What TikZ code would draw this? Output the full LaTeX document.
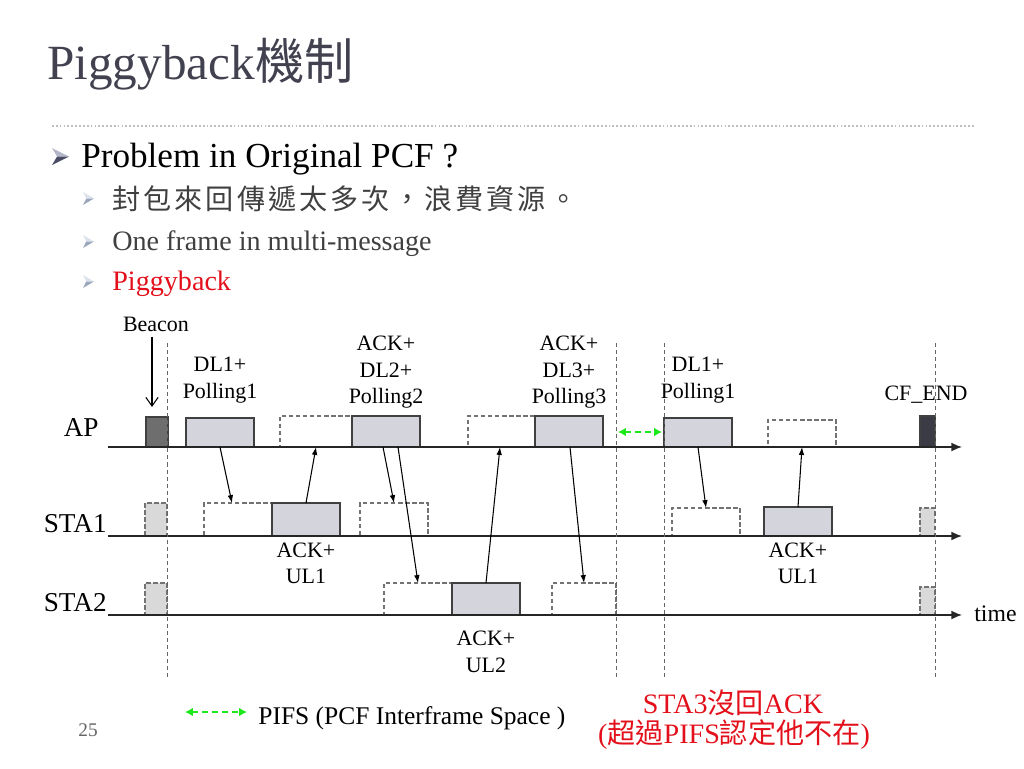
\documentclass[tikz,border=0pt]{standalone}
\usepackage{fontspec}
\setmainfont{Liberation Serif}
\newfontfamily\cjk{Noto Sans CJK TC}
\newfontfamily\cjkwide[LetterSpace=11]{Noto Sans CJK TC}
\usetikzlibrary{arrows.meta,positioning,fit}
\definecolor{titlegray}{HTML}{41414F}
\definecolor{textgray}{HTML}{404040}
\definecolor{noteRed}{HTML}{E3101B}
\definecolor{pktfill}{HTML}{D4D4DC}
\definecolor{ghostfill}{HTML}{D9D9D9}
\definecolor{bcnfill}{HTML}{6E6E6E}
\definecolor{cfefill}{HTML}{3B3B45}
\definecolor{pifsgreen}{HTML}{1CE81C}
\definecolor{bulLiteA}{HTML}{B4B6CA}
\definecolor{bulDarkA}{HTML}{4A4C66}
\definecolor{bulLiteB}{HTML}{DCE2EC}
\definecolor{bulDarkB}{HTML}{9AA6BC}
\newcommand{\fsz}[2]{\fontsize{#1}{#2}\selectfont}
\tikzset{
  pktbox/.style={draw=black!75, fill=pktfill, line width=0.6pt, inner sep=0pt, outer sep=0pt},
  slotbox/.style={draw=black!55, dash pattern=on 2.5pt off 1.5pt, line width=0.6pt, inner sep=0pt, outer sep=0pt},
  ghostbox/.style={slotbox, fill=ghostfill},
  lbl/.style={inner sep=0pt, align=center, font=\fsz{12.5}{15.3}},
  stalbl/.style={anchor=base east, inner sep=0pt, font=\fsz{15.5}{18}},
  tline/.style={line width=0.8pt, black!85, -{Latex[length=6pt,width=5pt]}},
  sig/.style={line width=0.6pt, -{Latex[length=4.5pt,width=3.2pt]}},
  guide/.style={black!60, line width=0.5pt, dash pattern=on 2.3pt off 1.7pt},
  pifs/.style={pifsgreen, line width=1.6pt, dash pattern=on 3.5pt off 2.2pt,
    {Latex[length=4.5pt,width=5pt]}-{Latex[length=4.5pt,width=5pt]}},
  pics/arrow bullet/.style 2 args={code={
    \fill[#1] (0,0) -- (1,0.5) -- (0.3,0.5) -- cycle;
    \fill[#2] (0,1) -- (1,0.5) -- (0.3,0.5) -- cycle;
  }}
}
\begin{document}
\begin{tikzpicture}[x=0.02cm, y=-0.02cm]
  \useasboundingbox (0,0) rectangle (1024,768);
  \node[anchor=base west, inner sep=0pt, font=\fsz{28}{32}, text=titlegray] (title) at (47,79) {Piggyback{\cjk 機制}};
  \draw[black!25, line width=0.8pt, dash pattern=on 1pt off 1.2pt] (52,126) -- (975,126);
  \pic[xscale=17, yscale=17] at (52,148) {arrow bullet={bulLiteA}{bulDarkA}};
  \node[anchor=base west, inner sep=0pt, font=\fsz{20}{24}] (prob) at (81,167) {Problem in Original PCF ?};
  \pic[xscale=11, yscale=13] at (83,192) {arrow bullet={bulLiteB}{bulDarkB}};
  \node[anchor=base west, inner sep=0pt, font=\fsz{16}{19}\cjkwide, text=textgray] (why) at (112,209) {封包來回傳遞太多次，浪費資源。};
  \pic[xscale=11, yscale=13] at (83,235) {arrow bullet={bulLiteB}{bulDarkB}};
  \node[anchor=base west, inner sep=0pt, font=\fsz{16}{19}, text=textgray] (one) at (112,250) {One frame in multi-message};
  \pic[xscale=11, yscale=13] at (83,275) {arrow bullet={bulLiteB}{bulDarkB}};
  \node[anchor=base west, inner sep=0pt, font=\fsz{16}{19}, text=noteRed] (pig) at (112,290) {Piggyback};

  \node[pktbox, fill=bcnfill, fit={(146,417) (168,447)}] (bcnA) {};
  \node[pktbox, fit={(186,418) (254,447)}] (dlA1) {};
  \node[slotbox, fit={(280,416) (352,447)}] (slA1) {};
  \node[pktbox, fit={(352,416) (420,447)}] (dlA2) {};
  \node[slotbox, fit={(468,416) (535,447)}] (slA2) {};
  \node[pktbox, fit={(535,416) (603,447)}] (dlA3) {};
  \node[pktbox, fit={(664,418) (732,447)}] (dlA4) {};
  \node[slotbox, fit={(768,420) (836,447)}] (slA3) {};
  \node[pktbox, fill=cfefill, fit={(920,416) (935,447)}] (cfeA) {};

  \node[ghostbox, fit={(145,503) (167,536)}] (bcnS1) {};
  \node[slotbox, fit={(204,503) (272,536)}] (slS1a) {};
  \node[pktbox, fit={(272,503) (340,536)}] (ulS1a) {};
  \node[slotbox, fit={(360,503) (428,536)}] (slS1b) {};
  \node[slotbox, fit={(672,508) (740,536)}] (slS1c) {};
  \node[pktbox, fit={(764,507) (832,536)}] (ulS1b) {};
  \node[ghostbox, fit={(920,508) (935,536)}] (cfeS1) {};

  \node[ghostbox, fit={(145,583) (167,615)}] (bcnS2) {};
  \node[slotbox, fit={(384,583) (452,615)}] (slS2a) {};
  \node[pktbox, fit={(452,583) (520,615)}] (ulS2) {};
  \node[slotbox, fit={(552,583) (616,615)}] (slS2b) {};
  \node[ghostbox, fit={(920,587) (935,615)}] (cfeS2) {};

  \draw[tline] (108,447) -- (962,447);
  \draw[tline] (108,536) -- (962,536);
  \draw[tline] (108,615) -- (962,615);
  \foreach \x in {167,616,664,935}
    \draw[guide] (\x,343) -- (\x,679);

  \node[stalbl] (ap) at (99,436) {AP};
  \node[stalbl] (sta1) at (107,532) {STA1};
  \node[stalbl] (sta2) at (107,611) {STA2};
  \node[anchor=base west, inner sep=0pt, font=\fsz{13.5}{16}] (time) at (974,621) {time};

  \node[lbl, anchor=base] (beacon) at (156,331) {Beacon};
  \node[lbl, above=8pt of dlA1] (dlA1Lbl) {DL1+\\Polling1};
  \node[lbl, above=4pt of dlA2] (dlA2Lbl) {ACK+\\DL2+\\Polling2};
  \node[lbl, above=4pt of dlA3] (dlA3Lbl) {ACK+\\DL3+\\Polling3};
  \node[lbl, above=8pt of dlA4] (dlA4Lbl) {DL1+\\Polling1};
  \node[lbl, anchor=base] (cfeLbl) at (926,400) {CF\_END};
  \node[lbl, below=3.5pt of ulS1a] (ulS1aLbl) {ACK+\\UL1};
  \node[lbl, below=3.5pt of ulS1b] (ulS1bLbl) {ACK+\\UL1};
  \node[lbl, below=9pt of ulS2] (ulS2Lbl) {ACK+\\UL2};

  \draw[line width=0.6pt, -{Straight Barb[length=5pt,width=7pt]}, shorten <=3pt, shorten >=5.7pt]
    (beacon.south -| 152,0) -- (bcnA.north -| 152,0);
  \draw[sig] (dlA1.south -| 220,0) -- (slS1a.north -| 232,0);
  \draw[sig] (ulS1a.north -| 306,0) -- (slA1.south -| 316,0);
  \draw[sig] (dlA2.south -| 383,0) -- (slS1b.north -| 394,0);
  \draw[sig] (dlA2.south -| 398,0) -- (slS2a.north -| 418,0);
  \draw[sig] (ulS2.north -| 486,0) -- (slA2.south -| 500,0);
  \draw[sig] (dlA3.south -| 570,0) -- (slS2b.north -| 584,0);
  \draw[sig] (dlA4.south -| 698,0) -- (slS1c.north -| 706,0);
  \draw[sig] (ulS1b.north -| 798,0) -- (slA3.south -| 802,0);

  \coordinate (pifsL) at (618,432);
  \coordinate (pifsR) at (662,432);
  \draw[pifs] (pifsL) -- (pifsR);
  \coordinate (legL) at (185,712);
  \coordinate (legR) at (247,712);
  \draw[pifs] (legL) -- (legR);
  \node[anchor=base west, inner sep=0pt, font=\fsz{14.5}{17}] (legend) at (258,724) {PIFS (PCF Interframe Space )};
  \node[anchor=base, inner sep=0pt, font=\fsz{16}{19}, text=noteRed] (note1) at (733,713) {STA3{\cjk 沒回}ACK};
  \node[anchor=base, inner sep=0pt, font=\fsz{16}{19}, text=noteRed] (note2) at (734,743) {({\cjk 超過}PIFS{\cjk 認定他不在})};
  \node[anchor=base, inner sep=0pt, font=\fsz{11}{13}, text=black!60] (pgno) at (88,736) {25};
\end{tikzpicture}
\end{document}
